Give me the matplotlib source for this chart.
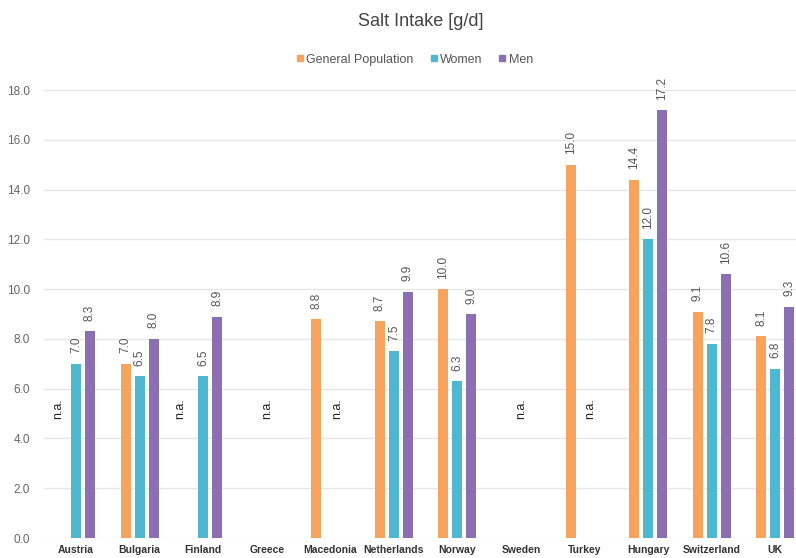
import numpy as np
import matplotlib.pyplot as plt
from matplotlib.lines import Line2D

plt.rcParams['font.family'] = ['Liberation Sans', 'DejaVu Sans']

# salt intake per country, g/day (None = no data)
countries = ['Austria', 'Bulgaria', 'Finland', 'Greece', 'Macedonia', 'Netherlands',
             'Norway', 'Sweden', 'Turkey', 'Hungary', 'Switzerland', 'UK']
general = [None, 7.0, None, None, 8.8, 8.7, 10.0, None, 15.0, 14.4, 9.1, 8.1]
women = [7.0, 6.5, 6.5, None, None, 7.5, 6.3, None, None, 12.0, 7.8, 6.8]
men = [8.3, 8.0, 8.9, None, None, 9.9, 9.0, None, None, 17.2, 10.6, 9.3]

series_names = ['General Population', 'Women', 'Men']
colors = ['#f7a35c', '#4db8d0', '#8c6fb2']

# where the "n.a." notes go: country -> offset from group centre
na_notes = {'Austria': -0.28, 'Finland': -0.36, 'Greece': 0.0,
            'Macedonia': 0.11, 'Sweden': 0.0, 'Turkey': 0.08}

fig = plt.figure(figsize=(7.96, 5.58), dpi=100)
ax = fig.add_axes([0.0555, 0.0358, 0.9585, 0.8029])

x = np.arange(len(countries))
bw = 0.157
step = 0.22

for i, (vals, c) in enumerate(zip([general, women, men], colors)):
    off = (i - 1) * step
    for xi, v in zip(x, vals):
        if v is None:
            continue
        ax.bar(xi + off, v, width=bw, color=c, zorder=3)
        ax.annotate(f'{v:.1f}', (xi + off, v), xytext=(0, 7.5), textcoords='offset points',
                    rotation=90, ha='center', va='bottom', fontsize=8.5,
                    color='#555555', annotation_clip=False)

for name, off in na_notes.items():
    xi = countries.index(name)
    ax.text(xi + off, 5.2, 'n.a.', rotation=90, ha='center', va='center',
            fontsize=9, color='#222222')

ax.set_xlim(-0.5, len(countries) - 0.5)
ax.set_ylim(0, 18)
ax.set_yticks(np.arange(0, 18.1, 2))
ax.set_yticklabels([f'{t:.1f}' for t in np.arange(0, 18.1, 2)])
ax.set_xticks(x)
ax.set_xticklabels(countries, fontsize=7.5, fontweight='bold', color='#333333')
ax.tick_params(axis='y', labelsize=8.5, labelcolor='#666666', length=0, pad=10)
ax.tick_params(axis='x', length=0, pad=5)
ax.grid(axis='y', color='#e6e6e6', linewidth=1, zorder=0)
for s in ax.spines.values():
    s.set_visible(False)

fig.text(0.528, 0.962, 'Salt Intake [g/d]', ha='center', va='center',
         fontsize=13, color='#444444')

handles = [Line2D([], [], marker='s', linestyle='', markersize=4.5, color=c) for c in colors]
fig.legend(handles, series_names, loc='center', bbox_to_anchor=(0.52, 0.893), ncol=3,
           frameon=False, fontsize=9, handletextpad=0.1, columnspacing=1.2,
           labelcolor='#555555', handlelength=0.8)

fig.savefig('out.png', dpi=100)
